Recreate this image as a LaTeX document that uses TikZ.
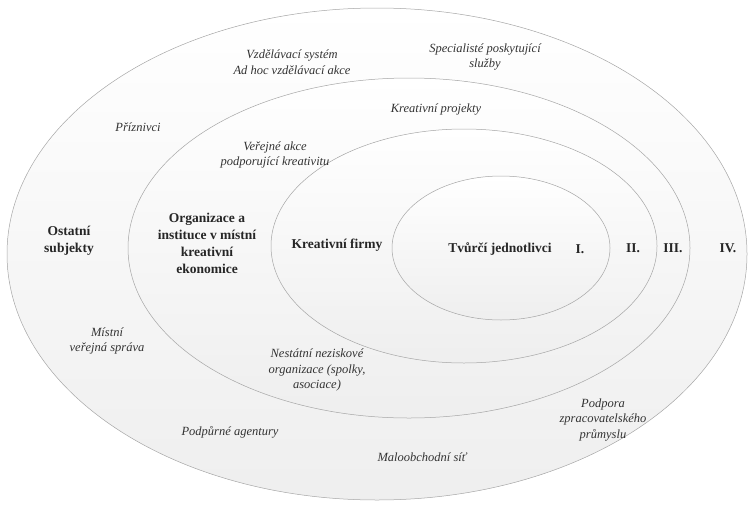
\documentclass[tikz,border=0pt]{standalone}
\usepackage{fontspec}
\setmainfont{Liberation Serif}
\tikzset{
  ring/.style={draw=gray!70,line width=0.5pt,top color=white,bottom color=gray!13},
  level/.style={font=\bfseries\fontsize{13.5}{17}\selectfont,align=center,text=black!85},
  actor/.style={font=\itshape\fontsize{12.5}{15.5}\selectfont,align=center,text=black!80},
}
\begin{document}
\begin{tikzpicture}[x=1pt,y=-1pt]
\useasboundingbox (0,0) rectangle (751,506);
\shadedraw[ring] (377,254) ellipse (370 and 246);
\shadedraw[ring] (409,248) ellipse (281 and 170);
\shadedraw[ring] (464,246) ellipse (193 and 117);
\shadedraw[ring] (501,248) ellipse (109 and 72);

\node[level] (ostatni) at (69,241) {Ostatní\\subjekty};
\node[level] (organizace) at (207,243) {Organizace a\\instituce v místní\\kreativní\\ekonomice};
\node[level] (firmy) at (337,245) {Kreativní firmy};
\node[level] (tvurci) at (500,249) {Tvůrčí jednotlivci};
\node[level] (l1) at (580,249) {I.};
\node[level] (l2) at (633,248) {II.};
\node[level] (l3) at (673,248) {III.};
\node[level] (l4) at (728,248) {IV.};

\node[actor] (vzdelavani) at (292,62) {Vzdělávací systém\\Ad hoc vzdělávací akce};
\node[actor] (specialiste) at (485,57) {Specialisté poskytující\\služby};
\node[actor] (projekty) at (436,110) {Kreativní projekty};
\node[actor] (priznivci) at (138,127) {Příznivci};
\node[actor] (verejneakce) at (275,155) {Veřejné akce\\podporující kreativitu};
\node[actor] (sprava) at (107,341) {Místní\\veřejná správa};
\node[actor] (nno) at (317,370) {Nestátní neziskové\\organizace (spolky,\\asociace)};
\node[actor] (agentury) at (230,432) {Podpůrné agentury};
\node[actor] (sit) at (422,457) {Maloobchodní síť};
\node[actor] (prumysl) at (603,420) {Podpora\\zpracovatelského\\průmyslu};
\end{tikzpicture}
\end{document}
